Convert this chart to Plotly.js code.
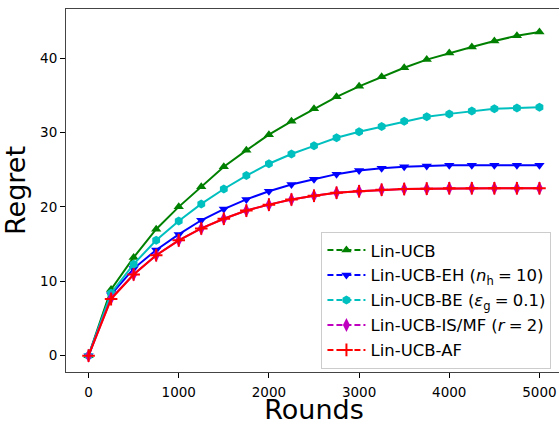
<!DOCTYPE html>
<html>
<head>
<meta charset="utf-8">
<script src="https://cdn.plot.ly/plotly-3.0.1.min.js"></script>
<style>
html,body{margin:0;padding:0;overflow:hidden;background:#fff;width:559px;height:425px;}
#chart{width:600px;height:425px;}
</style>
</head>
<body>
<div id="chart"></div>
<script>
const rounds = [0,250,500,750,1000,1250,1500,1750,2000,2250,2500,2750,3000,3250,3500,3750,4000,4250,4500,4750,5000];
const linUCB   = [0,8.9,13.2,17.0,20.0,22.7,25.4,27.6,29.7,31.5,33.2,34.8,36.2,37.5,38.7,39.8,40.7,41.5,42.3,43.0,43.5];
const linUCBEH = [0,8.2,11.7,14.2,16.3,18.2,19.7,21.0,22.1,23.0,23.7,24.4,24.9,25.2,25.4,25.5,25.6,25.6,25.6,25.6,25.6];
const linUCBBE = [0,8.4,12.3,15.5,18.1,20.4,22.4,24.2,25.8,27.1,28.2,29.3,30.1,30.8,31.5,32.1,32.5,32.9,33.2,33.3,33.4];
const linUCBIS = [0,7.7,10.9,13.5,15.5,17.1,18.4,19.5,20.3,21.0,21.5,21.9,22.1,22.3,22.4,22.45,22.5,22.5,22.5,22.5,22.5];
const linUCBAF = [0,7.6,10.9,13.5,15.5,17.1,18.4,19.5,20.3,21.0,21.5,21.9,22.1,22.3,22.4,22.45,22.5,22.5,22.5,22.5,22.5];
const seriesNames = ["Lin-UCB","Lin-UCB-EH (<i>n</i><sub>h</sub>\u2005=\u200510)","Lin-UCB-BE (<i>ε</i><sub>g</sub>\u2005=\u20050.1)","Lin-UCB-IS/MF (<i>r</i>\u2005=\u20052)","Lin-UCB-AF"];

const series = [linUCB, linUCBEH, linUCBBE, linUCBIS, linUCBAF];
const colors = ["#008000","#0000ff","#00bfbf","#bf00bf","#ff0000"];
const symbols = ["triangle-up","triangle-down","hexagon","diamond-tall","cross-thin"];
const sizes = [9,9,9,10,9];

function mkMarker(i){
  const mk = {symbol:symbols[i], size:sizes[i], color:colors[i]};
  if(symbols[i]==="cross-thin"){ mk.line={color:colors[i],width:2}; }
  return mk;
}
const traces = [];
series.forEach((ys,i)=>{
  traces.push({x:rounds, y:ys, type:"scatter", mode:"lines+markers", showlegend:false,
    line:{color:colors[i], width:2}, marker:mkMarker(i), cliponaxis:false});
});
series.forEach((ys,i)=>{
  traces.push({x:[null], y:[null], type:"scatter", mode:"lines+markers", name:seriesNames[i],
    legendgroup:"g"+i, line:{color:colors[i], width:2, dash:"6px,3px"}, marker:mkMarker(i)});
});

const layout = {
  width:600, height:425,
  margin:{l:66, r:38, t:9, b:53},
  paper_bgcolor:"#fff", plot_bgcolor:"#fff",
  font:{family:"DejaVu Sans", color:"#000", size:13.5},
  showlegend:true,
  xaxis:{range:[-250,5250], tickvals:[0,1000,2000,3000,4000,5000], ticks:"outside", ticklen:5, tickcolor:"#000",
    ticklabelstandoff:3,
    showline:true, mirror:true, linecolor:"#444", linewidth:1, showgrid:false, zeroline:false,
    tickfont:{size:13.5}, title:{text:"Rounds", font:{size:27}, standoff:4}},
  yaxis:{range:[-2.2,46.6], tickvals:[0,10,20,30,40], ticks:"outside", ticklen:5, tickcolor:"#000",
    showline:true, mirror:true, linecolor:"#444", linewidth:1, showgrid:false, zeroline:false,
    tickfont:{size:13.5}, title:{text:"Regret", font:{size:27}, standoff:8}},
  legend:{x:0.515, y:0.386, xanchor:"left", yanchor:"top", bgcolor:"rgba(255,255,255,0.8)",
    bordercolor:"#cccccc", borderwidth:1, font:{size:16.5}, tracegroupgap:0.5, itemwidth:38}
};
Plotly.newPlot("chart", traces, layout, {staticPlot:true, displayModeBar:false});
</script>
</body>
</html>
